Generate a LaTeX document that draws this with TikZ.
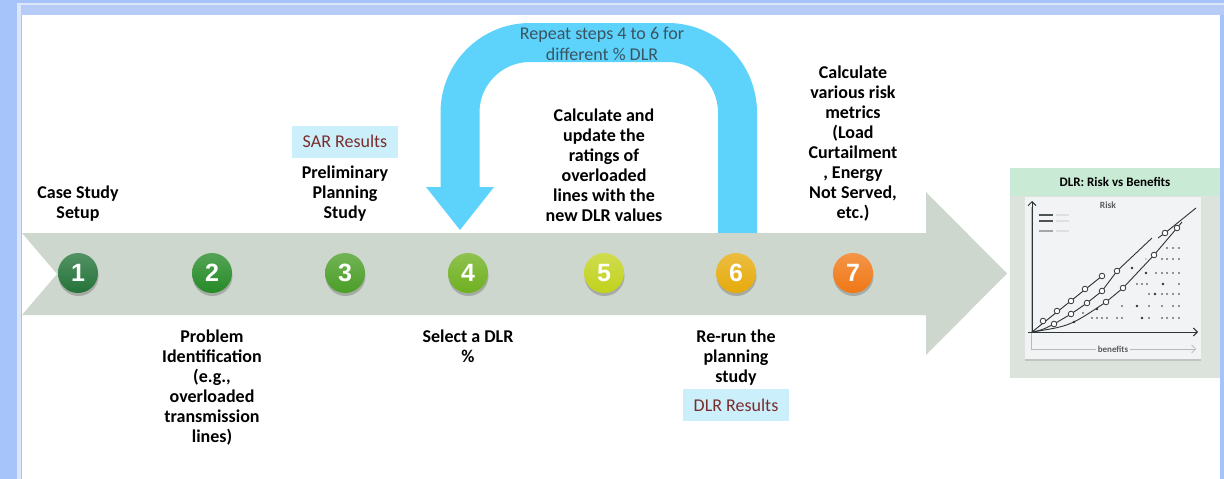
\documentclass[tikz,border=0pt]{standalone}
\usepackage{fontspec}
\setmainfont{Carlito}
\newfontfamily\numfont{Liberation Sans}
\usetikzlibrary{positioning, shadows, arrows.meta}
\definecolor{band}{HTML}{A6C3FA}
\definecolor{bandtop}{HTML}{B7CBF7}
\definecolor{bandlight}{HTML}{DCE6FB}
\definecolor{track}{HTML}{CDD7CE}
\definecolor{loopblue}{HTML}{5DD2FB}
\definecolor{looptext}{HTML}{3A5462}
\definecolor{resfill}{HTML}{CCF0FB}
\definecolor{restext}{HTML}{7A2C2C}
\definecolor{stepa}{HTML}{237338}
\definecolor{stepb}{HTML}{258A26}
\definecolor{stepc}{HTML}{4A9E26}
\definecolor{stepd}{HTML}{6FB01F}
\definecolor{stepe}{HTML}{C1D21C}
\definecolor{stepf}{HTML}{E6AA0A}
\definecolor{stepg}{HTML}{F07714}
\definecolor{hdrgreen}{HTML}{C9EBD5}
\definecolor{panelgray}{HTML}{DCE3DC}
\definecolor{cardgray}{HTML}{F1F3F5}
\definecolor{ink}{HTML}{2E3336}

\begin{document}
\begin{tikzpicture}[x=1pt, y=-1pt,
    stepdot/.style={circle, minimum size=40pt, inner sep=0pt, text=white,
                    font=\numfont\fontsize{25}{25}\selectfont\bfseries,
                    drop shadow={shadow xshift=0.5pt, shadow yshift=-3pt, opacity=0.5}},
    steptext/.style={align=center, inner sep=0pt, font=\fontsize{18}{20}\selectfont\bfseries},
    resbox/.style={fill=resfill, text=restext, minimum width=106pt, minimum height=32pt,
                   inner sep=0pt, font=\fontsize{18}{20}\selectfont},
    curve/.style={draw=ink, line width=0.9pt},
    ring/.style={draw=ink, fill=white, line width=0.8pt}
  ]
    \useasboundingbox (0,0) rectangle (1224,479);
    % frame
    \fill[band] (0,0) rectangle (1224,479);
    \fill[bandtop] (21,5) rectangle (1224,15);
    \fill[bandlight] (17,3) rectangle (1224,5);
    \fill[bandlight] (17,3) rectangle (21,479);
    \fill[white] (22,15) rectangle (1220,479);

    % loop arrow
    \draw[loopblue, line width=39pt, rounded corners=70pt] (737.5,240) -- (737.5,42.5) -- (460,42.5) -- (460,188);
    \fill[loopblue] (426,187) -- (494,187) -- (460,230) -- cycle;
    \node[align=center, font=\fontsize{18}{21}\selectfont, text=looptext] (repeat) at (602,44)
      {Repeat steps 4 to 6 for\\different \% DLR};

    % process arrow
    \fill[track] (22,233) -- (926,233) -- (926,192) -- (1007,273.5) -- (926,355)
      -- (926,315) -- (22,315) -- (57,274) -- cycle;

    \foreach \n/\x/\c in {1/78/stepa, 2/212/stepb, 3/345/stepc, 4/468/stepd,
                          5/604/stepe, 6/736/stepf, 7/853/stepg}
      \node[stepdot, top color=\c!78!white, bottom color=\c] (s\n) at (\x,273) {\n};

    \node[steptext, above=31pt of s1] (setup) {Case Study\\Setup};
    \node[steptext, above=31pt of s3] (prelim) {Preliminary\\Planning\\Study};
    \node[steptext, above=31pt of s5] (update) {Calculate and\\update the\\ratings of\\overloaded\\lines with the\\new DLR values};
    \node[steptext, above=31pt of s7] (metrics) {Calculate\\various risk\\metrics\\(Load\\Curtailment\\, Energy\\Not Served,\\etc.)};
    \node[steptext, below=36pt of s2] (problem) {Problem\\Identification\\(e.g.,\\overloaded\\transmission\\lines)};
    \node[steptext, below=36pt of s4] (select) {Select a DLR\\\%};
    \node[steptext, below=36pt of s6] (rerun) {Re-run the\\planning\\study};

    \node[resbox, above=8pt of prelim] (sar) {SAR Results};
    \node[resbox, below=4pt of rerun] (dlr) {DLR Results};

    % chart panel
    \fill[panelgray] (1010,168) rectangle (1220,378);
    \fill[hdrgreen] (1010,168) rectangle (1220,196);
    \node[font=\fontsize{13}{15}\selectfont\bfseries] (charttitle) at (1115,182) {DLR: Risk vs Benefits};
    \node[fill=cardgray, minimum width=176pt, minimum height=162pt, inner sep=0pt,
          drop shadow={shadow xshift=0pt, shadow yshift=-2pt, opacity=0.3}] (card) at (1113,278) {};
    \draw[gray!55, line width=0.7pt, -{Straight Barb[length=4pt]}] (1031,207) -- (1031,349) -- (1196,349);
    \node[fill=cardgray, text=ink!80, inner sep=2pt, font=\fontsize{9}{10}\selectfont\bfseries] (bene) at (1113,349) {benefits};
    \draw[ink, line width=1pt, -{Straight Barb[length=4pt]}] (1032,332) -- (1032,201);
    \draw[ink, line width=1pt, -{Straight Barb[length=4pt]}] (1028,332) -- (1198,332);
    \node[text=ink!80, font=\fontsize{9.5}{10}\selectfont\bfseries] (risk) at (1108,205) {Risk};
    \draw[ink!85, line width=1.8pt] (1039,215) -- (1053,215) (1039,221) -- (1053,221);
    \draw[gray!70, line width=1.8pt] (1039,231) -- (1053,231);
    \draw[gray!25, line width=1.8pt] (1056,215) -- (1069,215) (1056,221) -- (1069,221) (1056,231) -- (1069,231);

    \draw[curve] (1032,332) -- (1102,276);
    \draw[curve] (1032,332) .. controls (1042,330) .. (1054,324) -- (1071,314) -- (1087,303)
      -- (1102,291) -- (1117,271) -- (1152,238);
    \draw[curve] (1158,238) -- (1165,233) -- (1196,208);
    \draw[curve] (1032,332) .. controls (1070,326) .. (1106,302) -- (1123,288) -- (1154,255) -- (1177,228) -- (1182,222);
    \foreach \p in {(1043,321), (1057,311), (1071,301), (1085,289), (1102,276),
                    (1054,324), (1071,314), (1087,303), (1102,291), (1117,271), (1165,233),
                    (1106,302), (1123,288), (1154,255), (1177,228)}
      \draw[ring] \p circle (2.8pt);
    \foreach \p in {(1167,248), (1173,248), (1179,248), (1162,259), (1167,259), (1173,259), (1179,259),
                    (1156,273), (1162,273), (1167,273), (1173,273), (1179,273),
                    (1137,284), (1142,284), (1147,284), (1179,284),
                    (1149,294), (1162,294), (1167,294), (1173,294), (1179,294),
                    (1122,306), (1149,306), (1162,306), (1173,306), (1179,306), (1083,313),
                    (1092,318), (1097,318), (1102,318), (1107,318), (1117,318), (1122,318),
                    (1149,318), (1162,318), (1167,318), (1173,318), (1179,318)}
      \fill[ink] \p circle (0.8pt);
    \foreach \p in {(1132,268), (1146,273), (1163,284), (1155,294), (1137,306),
                    (1097,309), (1142,318), (1074,322)}
      \fill[ink] \p circle (1.4pt);
    \fill[ink!40] (1146,259) circle (0.8pt);
  \end{tikzpicture}
\end{document}
